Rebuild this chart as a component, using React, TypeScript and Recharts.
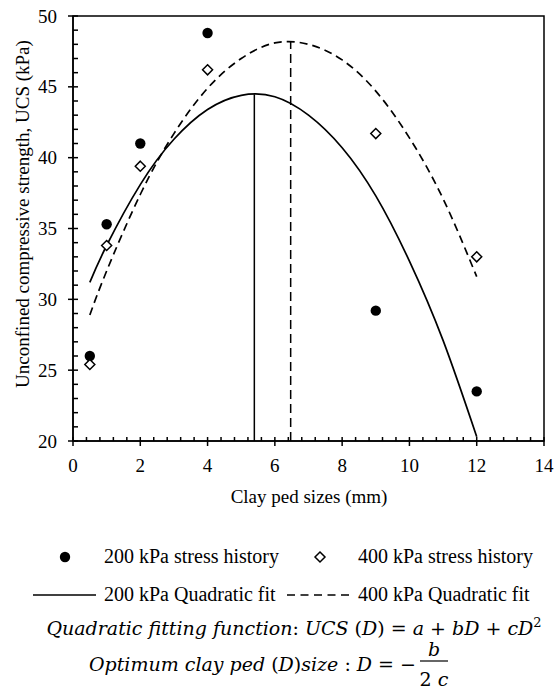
import {
  ComposedChart,
  Scatter,
  Line,
  XAxis,
  YAxis,
  ReferenceLine,
  ReferenceArea,
} from "recharts";

// measured points
const pedSizes = [0.5, 1, 2, 4, 9, 12];
const ucs200 = [26.0, 35.3, 41.0, 48.8, 29.2, 23.5];
const ucs400 = [25.4, 33.8, 39.4, 46.2, 41.7, 33.0];

// quadratic fit curves
const fitSizes = [0.5, 1, 2, 3, 4, 5, 6, 7, 8, 9, 10, 11, 12];
const fit200 = [31.2, 33.8, 38.1, 41.3, 43.4, 44.4, 44.3, 43.0, 40.7, 37.3, 32.7, 27.1, 20.3];
const fit400 = [28.9, 32.0, 37.4, 41.7, 44.9, 47.0, 48.1, 48.0, 46.9, 44.7, 41.4, 37.1, 31.6];

// optimum sizes (vertex of each fit)
const opt200 = { x: 5.39, y: 44.47 };
const opt400 = { x: 6.47, y: 48.18 };

const xTicks = Array.from({ length: 36 }, (_, i) => Math.round(i * 4) / 10);
const yTicks = Array.from({ length: 31 }, (_, i) => 20 + i);

const scatter200 = pedSizes.map((x, i) => ({ x, y: ucs200[i] }));
const scatter400 = pedSizes.map((x, i) => ({ x, y: ucs400[i] }));
const line200 = fitSizes.map((x, i) => ({ x, y: fit200[i] }));
const line400 = fitSizes.map((x, i) => ({ x, y: fit400[i] }));

const serif = { fontFamily: "Liberation Serif, Times New Roman, serif" };
const mathFont = { fontFamily: "DejaVu Serif, serif" };

const XTick = (props: any) => {
  const { x, y, payload } = props;
  const v = payload.value;
  const major = Math.abs(v / 2 - Math.round(v / 2)) < 1e-6;
  return (
    <g>
      <line x1={x} x2={x} y1={y - 4} y2={major ? y + 5 : y} stroke="#000" strokeWidth={1.5} />
      {major && (
        <text x={x} y={y + 31} textAnchor="middle" fontSize={19} style={serif} fill="#000">
          {v}
        </text>
      )}
    </g>
  );
};

const YTick = (props: any) => {
  const { x, y, payload } = props;
  const v = payload.value;
  const major = v % 5 === 0;
  return (
    <g>
      <line x1={major ? x - 5 : x} x2={x + 5} y1={y} y2={y} stroke="#000" strokeWidth={1.5} />
      {major && (
        <text x={x - 16} y={y} dy="0.35em" textAnchor="end" fontSize={19} style={serif} fill="#000">
          {v}
        </text>
      )}
    </g>
  );
};

const YTitle = () => (
  <text
    transform="translate(22,214) rotate(-90)"
    textAnchor="middle"
    dy="0.35em"
    fontSize={19}
    style={serif}
    fill="#000"
  >
    Unconfined compressive strength, UCS (kPa)
  </text>
);

const XTitle = () => (
  <text x={309} y={503} textAnchor="middle" fontSize={19} style={serif} fill="#000">
    Clay ped sizes (mm)
  </text>
);

const Dot = (props: any) => <circle cx={props.cx} cy={props.cy} r={5.2} fill="#000" />;
const Diamond = (props: any) => {
  const { cx, cy } = props;
  const s = 5;
  return (
    <path
      d={`M${cx},${cy - s}L${cx + s},${cy}L${cx},${cy + s}L${cx - s},${cy}Z`}
      fill="#fff"
      stroke="#000"
      strokeWidth={1.5}
    />
  );
};

export default function App() {
  return (
    <div
      style={{
        position: "absolute",
        left: 0,
        top: 0,
        width: 554,
        height: 697,
        background: "#fff",
        fontFamily: "Liberation Serif, serif",
      }}
    >
      <ComposedChart width={554} height={510} margin={{ top: 16, right: 10, bottom: 0, left: 0 }}>
        <XAxis
          type="number"
          dataKey="x"
          domain={[0, 14]}
          ticks={xTicks}
          interval={0}
          tick={<XTick />}
          tickLine={false}
          tickSize={0}
          tickMargin={0}
          height={69}
          axisLine={{ stroke: "#000", strokeWidth: 1.5 }}
          allowDataOverflow
          label={{ content: () => <XTitle /> }}
        />
        <YAxis
          type="number"
          domain={[20, 50]}
          ticks={yTicks}
          interval={0}
          tick={<YTick />}
          tickLine={false}
          tickSize={0}
          tickMargin={0}
          width={73}
          axisLine={{ stroke: "#000", strokeWidth: 1.5 }}
          allowDataOverflow
          label={{ content: () => <YTitle /> }}
        />
        <ReferenceArea x1={0} x2={14} y1={20} y2={50} fill="none" stroke="#000" strokeWidth={1.5} />
        <ReferenceLine
          segment={[{ x: opt200.x, y: 20 }, { x: opt200.x, y: opt200.y }]}
          stroke="#000"
          strokeWidth={1.5}
        />
        <ReferenceLine
          segment={[{ x: opt400.x, y: 20 }, { x: opt400.x, y: opt400.y }]}
          stroke="#000"
          strokeWidth={1.5}
          strokeDasharray="9 5"
        />
        <Line
          data={line200}
          dataKey="y"
          type="natural"
          stroke="#000"
          strokeWidth={1.7}
          dot={false}
          activeDot={false}
          isAnimationActive={false}
        />
        <Line
          data={line400}
          dataKey="y"
          type="natural"
          stroke="#000"
          strokeWidth={1.7}
          strokeDasharray="8 5"
          dot={false}
          activeDot={false}
          isAnimationActive={false}
        />
        <Scatter data={scatter200} dataKey="y" shape={<Dot />} isAnimationActive={false} />
        <Scatter data={scatter400} dataKey="y" shape={<Diamond />} isAnimationActive={false} />
      </ComposedChart>

      <svg width={554} height={187} style={{ position: "absolute", left: 0, top: 510 }}>
        <g fontSize={20} fill="#000" style={serif}>
          <circle cx={65} cy={47} r={5.2} fill="#000" />
          <text x={104} y={53}>200 kPa stress history</text>
          <path d="M320,42L325,47L320,52L315,47Z" fill="#fff" stroke="#000" strokeWidth={1.5} />
          <text x={358} y={53}>400 kPa stress history</text>

          <line x1={33} x2={96} y1={85} y2={85} stroke="#000" strokeWidth={1.7} />
          <text x={104} y={91}>200 kPa Quadratic fit</text>
          <line x1={287} x2={349} y1={85} y2={85} stroke="#000" strokeWidth={1.7} strokeDasharray="8 5.5" />
          <text x={358} y={91}>400 kPa Quadratic fit</text>
        </g>
        <g fontSize={19} fill="#000" style={mathFont}>
          <text x={294} y={125} textAnchor="middle">
            <tspan fontStyle="italic">Quadratic fitting function</tspan>
            <tspan>: </tspan>
            <tspan fontStyle="italic">UCS</tspan>
            <tspan> (</tspan>
            <tspan fontStyle="italic">D</tspan>
            <tspan>) = </tspan>
            <tspan fontStyle="italic">a</tspan>
            <tspan> + </tspan>
            <tspan fontStyle="italic">bD</tspan>
            <tspan> + </tspan>
            <tspan fontStyle="italic">cD</tspan>
            <tspan fontSize={13} dy={-8}>2</tspan>
          </text>
          <text x={416} y={161} textAnchor="end">
            <tspan fontStyle="italic">Optimum clay ped</tspan>
            <tspan> (</tspan>
            <tspan fontStyle="italic">D</tspan>
            <tspan>)</tspan>
            <tspan fontStyle="italic">size</tspan>
            <tspan> : </tspan>
            <tspan fontStyle="italic">D</tspan>
            <tspan> = −</tspan>
          </text>
          <text x={434} y={146} textAnchor="middle" fontStyle="italic">b</text>
          <line x1={420} x2={448} y1={151} y2={151} stroke="#000" strokeWidth={1.2} />
          <text x={434} y={176} textAnchor="middle">
            <tspan>2 </tspan>
            <tspan fontStyle="italic">c</tspan>
          </text>
        </g>
      </svg>
    </div>
  );
}
